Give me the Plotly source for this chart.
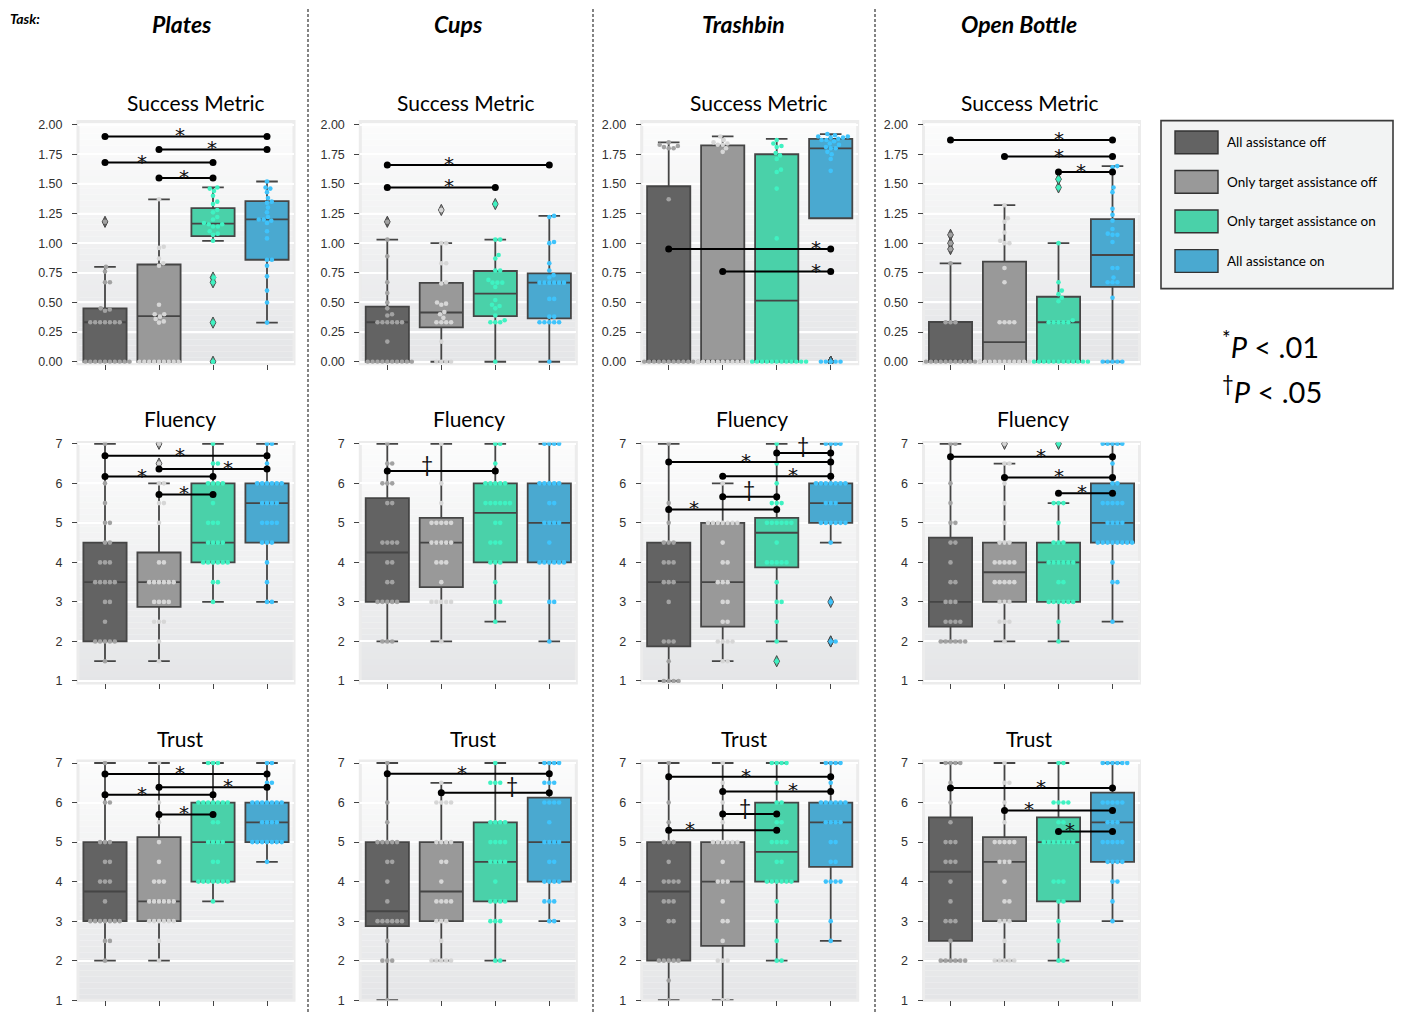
import numpy as np
import plotly.graph_objects as go

# ---------------------------------------------------------------- labels
tasks = ["Plates", "Cups", "Trashbin", "Open Bottle"]
metrics = ["Success Metric", "Fluency", "Trust"]
conditions = ["All assistance off", "Only target assistance off",
              "Only target assistance on", "All assistance on"]

box_colors = ["#636363", "#999999", "#4ad1a9", "#4aa9d0"]
dot_colors = ["#a2a2a2", "#d6d6d6", "#3ff2c2", "#3fc3fb"]
edge_color = "#454545"


def rep(v, n):
    return [v] * n


# ---------------------------------------------------------------- data
# box summaries per condition: [lower whisker, Q1, median, Q3, upper whisker]
# *_pts: individual participant scores; *_sig: (cond a, cond b, bar level, mark, mark x)

plates_success_box = [[0, 0, 0.333, 0.45, 0.80], [0, 0, 0.385, 0.82, 1.37],
                      [1.02, 1.06, 1.165, 1.295, 1.47], [0.33, 0.86, 1.20, 1.355, 1.52]]
plates_success_pts = [
    rep(0, 10) + rep(0.333, 7) + [0.43, 0.44, 0.45, 0.67, 0.67, 0.76, 0.80, 1.18],
    rep(0, 9) + [0.33, 0.34, 0.36, 0.38, 0.40, 0.40, 0.48, 0.81, 0.83, 0.87, 0.96, 0.97, 1.37],
    [0.0, 0.33, 0.67, 0.71, 1.02, 1.07, 1.08, 1.10, 1.14, 1.14, 1.16, 1.16, 1.17, 1.20,
     1.22, 1.26, 1.28, 1.33, 1.35, 1.40, 1.44, 1.46, 1.47],
    [0.33, 0.50, 0.60, 0.72, 0.81, 0.86, 0.86, 1.04, 1.10, 1.17, 1.19, 1.20, 1.20, 1.22,
     1.26, 1.30, 1.34, 1.35, 1.38, 1.43, 1.46, 1.47, 1.52]]
plates_success_sig = [(0, 3, 1.90, "*", 1.39), (1, 3, 1.79, "*", 1.98),
                      (0, 2, 1.68, "*", 0.68), (1, 2, 1.55, "*", 1.46)]

plates_fluency_box = [[1.5, 2, 3.5, 4.5, 7], [1.5, 2.875, 3.5, 4.25, 6],
                      [3, 4, 4.5, 6, 7], [3, 4.5, 5.5, 6, 7]]
plates_fluency_pts = [
    [1.5] + rep(2, 5) + [2.5] + rep(3, 2) + rep(3.5, 5) + rep(4, 3) + rep(4.5, 2) + rep(5, 2) + [5.5, 6, 7],
    [1.5, 2] + rep(2.5, 3) + rep(3, 4) + rep(3.5, 6) + rep(4, 2) + [5] + rep(5.5, 2) + rep(6, 2) + [6.5, 7],
    [3] + rep(3.5, 2) + rep(4, 6) + rep(4.5, 4) + rep(5, 3) + [5.5] + rep(6, 4) + rep(6.5, 2) + [7],
    rep(3, 2) + [3.5, 4] + rep(4.5, 3) + rep(5, 4) + rep(5.5, 4) + rep(6, 6) + [6.5] + rep(7, 2)]
plates_fluency_sig = [(0, 3, 6.70, "*", 1.39), (1, 3, 6.36, "*", 2.27),
                      (0, 2, 6.17, "*", 0.68), (1, 2, 5.72, "*", 1.46)]

plates_trust_box = [[2, 3, 3.75, 5, 7], [2, 3, 3.5, 5.125, 7],
                    [3.5, 4, 5, 6, 7], [4.5, 5, 5.5, 6, 7]]
plates_trust_pts = [
    [2] + rep(2.5, 2) + rep(3, 7) + [3.5] + rep(4, 3) + rep(4.5, 2) + rep(5, 3) + rep(6, 2) + [7],
    [2, 2.5] + rep(3, 6) + rep(3.5, 6) + rep(4, 3) + [4.5, 5, 5.5, 6, 7],
    [3.5] + rep(4, 7) + rep(4.5, 2) + rep(5, 4) + rep(5.5, 2) + rep(6, 7) + rep(7, 3),
    [4.5] + rep(5, 7) + rep(5.5, 4) + rep(6, 7) + rep(6.5, 2) + rep(7, 2)]
plates_trust_sig = [(0, 3, 6.72, "*", 1.39), (1, 3, 6.39, "*", 2.27),
                    (0, 2, 6.20, "*", 0.68), (1, 2, 5.70, "*", 1.46)]

cups_success_box = [[0, 0, 0.333, 0.465, 1.03], [0, 0.29, 0.415, 0.665, 1.0],
                    [0, 0.385, 0.575, 0.765, 1.03], [0, 0.365, 0.667, 0.745, 1.23]]
cups_success_pts = [
    rep(0, 10) + [0.17] + rep(0.333, 6) + [0.39, 0.40, 0.45, 0.50, 0.58, 0.67, 0.89, 1.03, 1.18],
    rep(0, 4) + [0.17] + rep(0.333, 4) + [0.37, 0.40, 0.42, 0.48, 0.49, 0.50, 0.66, 0.67,
                                          0.83, 0.83, 1.0, 1.0, 1.28],
    [0.0] + rep(0.333, 3) + [0.35, 0.39, 0.45, 0.47, 0.48, 0.52, 0.63] + rep(0.667, 3) +
    [0.69, 0.77, 0.77, 0.87, 0.90, 1.03, 1.03, 1.33],
    [0.0] + rep(0.333, 5) + [0.38, 0.38, 0.53, 0.53] + rep(0.667, 6) +
    [0.71, 0.73, 0.77, 0.83, 1.0, 1.01, 1.22, 1.23]]
cups_success_sig = [(0, 3, 1.66, "*", 1.15), (0, 2, 1.47, "*", 1.15)]

cups_fluency_box = [[2, 3, 4.25, 5.625, 7], [2, 3.375, 4.5, 5.125, 7],
                    [2.5, 4, 5.25, 6, 7], [2, 4, 5, 6, 7]]
cups_fluency_pts = [
    rep(2, 3) + rep(3, 5) + rep(3.5, 2) + rep(4, 2) + rep(4.5, 4) + rep(5.5, 2) + rep(6, 3) + rep(6.5, 2) + [7],
    [2] + rep(3, 5) + [3.5] + rep(4, 3) + rep(4.5, 5) + rep(5, 5) + [5.5, 6, 7],
    [2.5] + rep(3, 2) + [3.5] + rep(4, 3) + rep(4.5, 3) + rep(5, 2) + rep(5.5, 6) + rep(6, 5) + [6.5] + rep(7, 2),
    [2] + rep(3, 2) + rep(4, 6) + [4.5] + rep(5, 4) + rep(5.5, 2) + rep(6, 5) + rep(7, 4)]
cups_fluency_sig = [(0, 2, 6.31, "†", 0.74)]

cups_trust_box = [[1, 2.875, 3.25, 5, 7], [2, 3, 3.75, 5, 6.5],
                  [2, 3.5, 4.5, 5.5, 7], [3, 4, 5, 6.125, 7]]
cups_trust_pts = [
    [1] + rep(2, 3) + [2.5] + rep(3, 6) + [3.5, 4] + rep(4.5, 2) + rep(5, 5) + [5.5, 6, 7],
    rep(2, 5) + [2.5] + rep(3, 3) + rep(3.5, 4) + [4] + rep(4.5, 2) + rep(5, 4) + rep(6, 4) + [6.5],
    rep(2, 2) + rep(3, 3) + rep(3.5, 4) + [4] + rep(4.5, 4) + rep(5, 4) + rep(5.5, 4) + rep(6.5, 3) + [7],
    rep(3, 2) + rep(3.5, 3) + rep(4, 4) + rep(4.5, 2) + rep(5, 4) + [5.5] + rep(6, 4) + rep(6.5, 3) + rep(7, 4)]
cups_trust_sig = [(0, 3, 6.73, "*", 1.38), (1, 3, 6.25, "†", 2.31)]

trashbin_success_box = [[0, 0, 0, 1.48, 1.85], [0, 0, 0, 1.825, 1.90],
                        [0, 0, 0.515, 1.75, 1.88], [1.21, 1.21, 1.80, 1.88, 1.92]]
trashbin_success_pts = [
    rep(0, 12) + [1.37, 1.80, 1.80, 1.81, 1.82, 1.83, 1.85],
    rep(0, 12) + [1.77, 1.80, 1.83, 1.83, 1.84, 1.85, 1.87, 1.90],
    rep(0, 12) + [1.04, 1.46, 1.60, 1.62, 1.71, 1.74, 1.76, 1.81, 1.82, 1.84, 1.87],
    rep(0, 5) + [1.61, 1.71, 1.75, 1.77, 1.80, 1.80, 1.81, 1.83, 1.84, 1.86, 1.87, 1.87,
                 1.88, 1.89, 1.89, 1.90, 1.90, 1.91, 1.92]]
trashbin_success_sig = [(0, 3, 0.95, "*", 2.72), (1, 3, 0.76, "*", 2.72)]

trashbin_fluency_box = [[1, 1.875, 3.5, 4.5, 7], [1.5, 2.375, 3.5, 5, 6],
                        [2, 3.875, 4.75, 5.125, 7], [4.5, 5, 5.5, 6, 7]]
trashbin_fluency_pts = [
    rep(1, 4) + [1.5] + rep(2, 3) + [3] + rep(3.5, 3) + rep(4, 3) + rep(4.5, 3) + [5, 5.5, 7],
    rep(1.5, 2) + rep(2, 4) + rep(2.5, 2) + rep(3, 2) + rep(3.5, 3) + rep(4, 2) + [4.5] + rep(5, 7) + [6],
    [1.5, 2, 2.5] + rep(3, 2) + [3.5] + rep(4, 5) + [4.5] + rep(5, 6) + rep(5.5, 3) + [6, 6.5, 7],
    rep(2, 2) + [3, 4.5] + rep(5, 6) + rep(5.5, 3) + rep(6, 7) + rep(7, 4)]
trashbin_fluency_sig = [(2, 3, 6.77, "†", 2.48), (0, 3, 6.54, "*", 1.43), (1, 3, 6.18, "*", 2.31),
                        (1, 2, 5.66, "†", 1.48), (0, 2, 5.34, "*", 0.46)]

trashbin_trust_box = [[1, 2, 3.75, 5, 7], [1, 2.375, 4, 5, 7],
                      [2, 4, 4.75, 6, 7], [2.5, 4.375, 5.5, 6, 7]]
trashbin_trust_pts = [
    [1, 1.5] + rep(2, 5) + rep(3, 2) + rep(3.5, 3) + rep(4, 4) + [4.5] + rep(5, 3) + [5.5, 6, 7],
    rep(1, 2) + rep(2, 3) + [2.5] + rep(3, 2) + [3.5] + rep(4, 3) + [4.5] + rep(5, 6) + [5.5, 6, 6.5, 7],
    rep(2, 2) + [2.5, 3, 3.5] + rep(4, 6) + rep(4.5, 2) + rep(5, 4) + rep(5.5, 2) + rep(6, 2) + [6.5] + rep(7, 4),
    [2.5, 3] + rep(4, 4) + rep(4.5, 2) + rep(5, 2) + rep(5.5, 4) + rep(6, 6) + [6.5] + rep(7, 4)]
trashbin_trust_sig = [(0, 3, 6.65, "*", 1.43), (1, 3, 6.28, "*", 2.31),
                      (1, 2, 5.71, "†", 1.41), (0, 2, 5.30, "*", 0.39)]

bottle_success_box = [[0, 0, 0, 0.335, 0.83], [0, 0, 0.165, 0.845, 1.32],
                      [0, 0, 0.333, 0.548, 1.0], [0, 0.632, 0.90, 1.203, 1.65]]
bottle_success_pts = [
    rep(0, 13) + rep(0.333, 3) + [0.83, 0.95, 1.0, 1.07],
    rep(0, 12) + rep(0.333, 4) + [0.67, 0.79, 1.0, 1.0, 1.02, 1.09, 1.18, 1.21, 1.32],
    rep(0, 12) + rep(0.333, 5) + [0.35, 0.51, 0.54, 0.57, 0.60, 0.67, 1.0, 1.47, 1.54],
    rep(0, 5) + [0.54, 0.67, 0.67, 0.67, 0.71, 0.79, 0.79, 1.01, 1.07, 1.07, 1.08, 1.12,
                 1.19, 1.24, 1.29, 1.43, 1.47, 1.64, 1.65]]
bottle_success_sig = [(0, 3, 1.87, "*", 2.0), (1, 3, 1.73, "*", 2.0), (2, 3, 1.60, "*", 2.41)]

bottle_fluency_box = [[2, 2.375, 3, 4.625, 7], [2, 3, 3.75, 4.5, 6.5],
                      [2, 3, 4, 4.5, 5.5], [2.5, 4.5, 5, 6, 7]]
bottle_fluency_pts = [
    rep(2, 6) + rep(2.5, 4) + rep(3, 3) + rep(3.5, 2) + [4] + rep(4.5, 2) + rep(5, 2) + [5.5, 6] + rep(7, 2),
    [2] + rep(2.5, 3) + rep(3, 3) + rep(3.5, 5) + rep(4, 5) + rep(4.5, 3) + [5, 5.5, 6] + rep(6.5, 2) + [7],
    [2, 2.5] + rep(3, 6) + rep(3.5, 2) + rep(4, 6) + rep(4.5, 3) + [5] + rep(5.5, 3) + [7],
    [2.5] + rep(3.5, 2) + [4] + rep(4.5, 8) + rep(5, 4) + rep(5.5, 5) + rep(6, 2) + [6.5] + rep(7, 5)]
bottle_fluency_sig = [(0, 3, 6.67, "*", 1.68), (1, 3, 6.15, "*", 2.0), (2, 3, 5.75, "*", 2.43)]

bottle_trust_box = [[2, 2.5, 4.25, 5.625, 7], [2, 3, 4.5, 5.125, 7],
                    [2, 3.5, 5, 5.625, 7], [3, 4.5, 5.5, 6.25, 7]]
bottle_trust_pts = [
    rep(2, 6) + [2.5] + rep(3, 3) + [3.5, 4] + rep(4.5, 3) + rep(5, 3) + [5.5, 6, 6.5] + rep(7, 4),
    rep(2, 5) + [2.5] + rep(3, 3) + rep(3.5, 2) + [4] + rep(4.5, 3) + rep(5, 5) + [5.5, 6] + rep(6.5, 2) + [7],
    rep(2, 2) + [2.5, 3] + rep(3.5, 2) + rep(4, 3) + rep(5, 7) + rep(5.5, 2) + rep(6, 4) + rep(7, 2),
    [3, 3.5] + rep(4, 2) + rep(4.5, 4) + rep(5, 5) + rep(5.5, 3) + rep(6, 5) + rep(7, 6)]
bottle_trust_sig = [(0, 3, 6.37, "*", 1.68), (1, 3, 5.80, "*", 1.46), (2, 3, 5.27, "*", 2.22)]

panels = {
    ("Plates", "Success Metric"): (plates_success_box, plates_success_pts, plates_success_sig),
    ("Plates", "Fluency"): (plates_fluency_box, plates_fluency_pts, plates_fluency_sig),
    ("Plates", "Trust"): (plates_trust_box, plates_trust_pts, plates_trust_sig),
    ("Cups", "Success Metric"): (cups_success_box, cups_success_pts, cups_success_sig),
    ("Cups", "Fluency"): (cups_fluency_box, cups_fluency_pts, cups_fluency_sig),
    ("Cups", "Trust"): (cups_trust_box, cups_trust_pts, cups_trust_sig),
    ("Trashbin", "Success Metric"): (trashbin_success_box, trashbin_success_pts, trashbin_success_sig),
    ("Trashbin", "Fluency"): (trashbin_fluency_box, trashbin_fluency_pts, trashbin_fluency_sig),
    ("Trashbin", "Trust"): (trashbin_trust_box, trashbin_trust_pts, trashbin_trust_sig),
    ("Open Bottle", "Success Metric"): (bottle_success_box, bottle_success_pts, bottle_success_sig),
    ("Open Bottle", "Fluency"): (bottle_fluency_box, bottle_fluency_pts, bottle_fluency_sig),
    ("Open Bottle", "Trust"): (bottle_trust_box, bottle_trust_pts, bottle_trust_sig),
}

# ---------------------------------------------------------------- geometry (pixels)
W, H = 1401, 1024
COL_LEFT = [78, 360.3, 641.7, 923.5]
COL_W = 216
ROW_TOP_BOTTOM = [(118, 363), (442.7, 686), (765, 1007)]
ROW_RANGE = [(-0.017, 2.025), (0.95, 7.0325), (1.0, 7.05)]
ROW_TICKS = [[0, 0.25, 0.5, 0.75, 1.0, 1.25, 1.5, 1.75, 2.0], [1, 2, 3, 4, 5, 6, 7], [1, 2, 3, 4, 5, 6, 7]]
TITLE_X = [[196, 466, 759, 1030], [180, 469, 752, 1033], [180, 473, 744, 1029]]
TITLE_Y = [99, 418, 742]
TASK_X = [182, 459, 743, 1019]
SEPARATORS = [308, 593, 875]

FONT = "Lato"
TICK_FONT = "Liberation Sans"
STAR_FONT = "DejaVu Sans"


def px(x):
    return x / W


def py(y):
    return 1 - y / H


def swarm(values, yscale, xscale, d=4.9):
    """Beeswarm offsets (in category units) so dots of diameter d px do not overlap."""
    ys = np.asarray(values, dtype=float) * yscale
    order = np.argsort(ys, kind="stable")
    placed = []
    xs = np.zeros(len(ys))
    for idx in order:
        y = ys[idx]
        near = [(qx, qy) for qx, qy in placed if abs(qy - y) < d]
        cands = [0.0]
        for qx, qy in near:
            dx = np.sqrt(max(d * d - (qy - y) ** 2, 0.0))
            cands += [qx + dx, qx - dx]
        cands.sort(key=abs)
        for c in cands:
            if all((c - qx) ** 2 + (y - qy) ** 2 >= d * d - 1e-6 for qx, qy in near):
                xs[idx] = c
                break
        placed.append((xs[idx], y))
    return xs / xscale


fig = go.Figure()
shapes = []
annotations = []
layout_axes = {}

N_BANDS = 40
top_rgb = np.array([252, 252, 252])
bot_rgb = np.array([228, 229, 231])

for r, metric in enumerate(metrics):
    y_top, y_bot = ROW_TOP_BOTTOM[r]
    lo_r, hi_r = ROW_RANGE[r]
    yscale = (y_bot - y_top) / (hi_r - lo_r)
    for c, task in enumerate(tasks):
        n = r * 4 + c + 1
        xa = "x" if n == 1 else f"x{n}"
        ya = "y" if n == 1 else f"y{n}"
        xkey = "xaxis" if n == 1 else f"xaxis{n}"
        ykey = "yaxis" if n == 1 else f"yaxis{n}"
        x0 = COL_LEFT[c]
        xscale = COL_W / 4.0

        layout_axes[xkey] = dict(
            domain=[px(x0), px(x0 + COL_W)], anchor=ya, range=[-0.5, 3.5],
            tickvals=[0, 1, 2, 3], showticklabels=False, ticks="outside", ticklen=5,
            tickwidth=1.3, tickcolor="#444", showgrid=False, zeroline=False, showline=False,
        )
        is_success = r == 0
        layout_axes[ykey] = dict(
            domain=[py(y_bot), py(y_top)], anchor=xa, range=[lo_r, hi_r],
            tickvals=ROW_TICKS[r], tickformat=".2f" if is_success else "d",
            ticks="outside", ticklen=5, tickwidth=1.3, tickcolor="#444",
            ticklabelstandoff=7,
            tickfont=dict(family=TICK_FONT, size=12.5, color="#303030"),
            showgrid=True, gridcolor="white", gridwidth=1.6, zeroline=False, showline=False,
        )

        # gradient backdrop
        for b in range(N_BANDS):
            t = (b + 0.5) / N_BANDS
            rgb = (top_rgb + (bot_rgb - top_rgb) * t).round().astype(int)
            shapes.append(dict(
                type="rect", xref=f"{xa} domain", yref=f"{ya} domain",
                x0=0, x1=1, y0=1 - (b + 1) / N_BANDS, y1=1 - b / N_BANDS,
                fillcolor=f"rgb({rgb[0]},{rgb[1]},{rgb[2]})", line=dict(width=0), layer="below",
            ))
        shapes.append(dict(
            type="rect", xref=f"{xa} domain", yref=f"{ya} domain", x0=0, x1=1, y0=0, y1=1,
            line=dict(color="#ececec", width=3), fillcolor="rgba(0,0,0,0)", layer="below",
        ))

        box, pts, sig = panels[(task, metric)]
        for k in range(4):
            lo, q1, med, q3, hi = box[k]
            fig.add_trace(go.Box(
                x=[k], lowerfence=[lo], q1=[q1], median=[med], q3=[q3], upperfence=[hi],
                width=0.8, whiskerwidth=0.5, fillcolor=box_colors[k],
                line=dict(color=edge_color, width=1.8), boxpoints=False,
                xaxis=xa, yaxis=ya, hoverinfo="skip", name=conditions[k],
            ))
        for k in range(4):
            lo, hi = box[k][0], box[k][4]
            outl = [v for v in pts[k] if v < lo - 1e-9 or v > hi + 1e-9]
            if outl:
                fig.add_trace(go.Scatter(
                    x=[k] * len(outl), y=outl, mode="markers", xaxis=xa, yaxis=ya,
                    marker=dict(symbol="diamond-tall", size=8, color=box_colors[k],
                                line=dict(color=edge_color, width=1)),
                    hoverinfo="skip",
                ))
        for k in range(4):
            offs = swarm(pts[k], yscale, xscale)
            fig.add_trace(go.Scatter(
                x=k + offs, y=pts[k], mode="markers", xaxis=xa, yaxis=ya,
                marker=dict(size=4.6, color=dot_colors[k], line=dict(width=0)),
                hoverinfo="skip",
            ))
        for a, b, level, mark, mx in sig:
            fig.add_trace(go.Scatter(
                x=[a, b], y=[level, level], mode="lines+markers", xaxis=xa, yaxis=ya,
                line=dict(color="black", width=2), marker=dict(size=7, color="black"),
                hoverinfo="skip",
            ))
            star = mark == "*"
            annotations.append(dict(
                x=mx, y=level, xref=xa, yref=ya, text=mark, showarrow=False,
                xanchor="center", yanchor="middle",
                yshift=1 if star else 8,
                font=dict(family=STAR_FONT if star else FONT, size=20 if star else 21, color="#111"),
            ))

        annotations.append(dict(
            x=px(TITLE_X[r][c]), y=py(TITLE_Y[r]), xref="paper", yref="paper",
            text=metric, showarrow=False, xanchor="center", yanchor="middle",
            font=dict(family=FONT, size=21, color="black"),
        ))

# column headers
for c, task in enumerate(tasks):
    annotations.append(dict(
        x=px(TASK_X[c]), y=py(19), xref="paper", yref="paper", text=f"<b><i>{task}</i></b>",
        showarrow=False, xanchor="center", yanchor="middle",
        font=dict(family=FONT, size=23, color="black"),
    ))
annotations.append(dict(
    x=px(8), y=py(14), xref="paper", yref="paper", text="<b><i>Task:</i></b>",
    showarrow=False, xanchor="left", yanchor="middle",
    font=dict(family=FONT, size=14, color="black"),
))

# dashed separators between tasks
for sx in SEPARATORS:
    shapes.append(dict(
        type="line", xref="paper", yref="paper", x0=px(sx), x1=px(sx), y0=py(4), y1=py(1021),
        line=dict(color="#333", width=1.2, dash="3px,2px"),
    ))

# legend panel
shapes.append(dict(
    type="rect", xref="paper", yref="paper", x0=px(1161), x1=px(1393), y0=py(287), y1=py(117),
    fillcolor="#f2f3f3", line=dict(color="#3a3a3a", width=1.6),
))
legend_rows = [139, 179, 219, 259]
for k, cond in enumerate(conditions):
    yc = legend_rows[k]
    shapes.append(dict(
        type="rect", xref="paper", yref="paper", x0=px(1175), x1=px(1218),
        y0=py(yc + 11.5), y1=py(yc - 11.5), fillcolor=box_colors[k],
        line=dict(color="#333", width=1.4),
    ))
    annotations.append(dict(
        x=px(1225), y=py(yc), xref="paper", yref="paper", text=cond, showarrow=False,
        xanchor="left", yanchor="middle", font=dict(family=FONT, size=13.5, color="black"),
    ))

# significance key
for text, yk in [("<sup>*</sup><i>P</i> < .01", 344), ("<sup>†</sup><i>P</i> < .05", 390)]:
    annotations.append(dict(
        x=px(1220), y=py(yk), xref="paper", yref="paper", text=text, showarrow=False,
        xanchor="left", yanchor="middle", font=dict(family=FONT, size=29, color="black"),
    ))

fig.update_layout(
    width=W, height=H, autosize=False, margin=dict(l=0, r=0, t=0, b=0, pad=0),
    paper_bgcolor="white", plot_bgcolor="white", showlegend=False,
    boxmode="overlay", shapes=shapes, annotations=annotations, **layout_axes,
)

fig.write_html("out.html")
